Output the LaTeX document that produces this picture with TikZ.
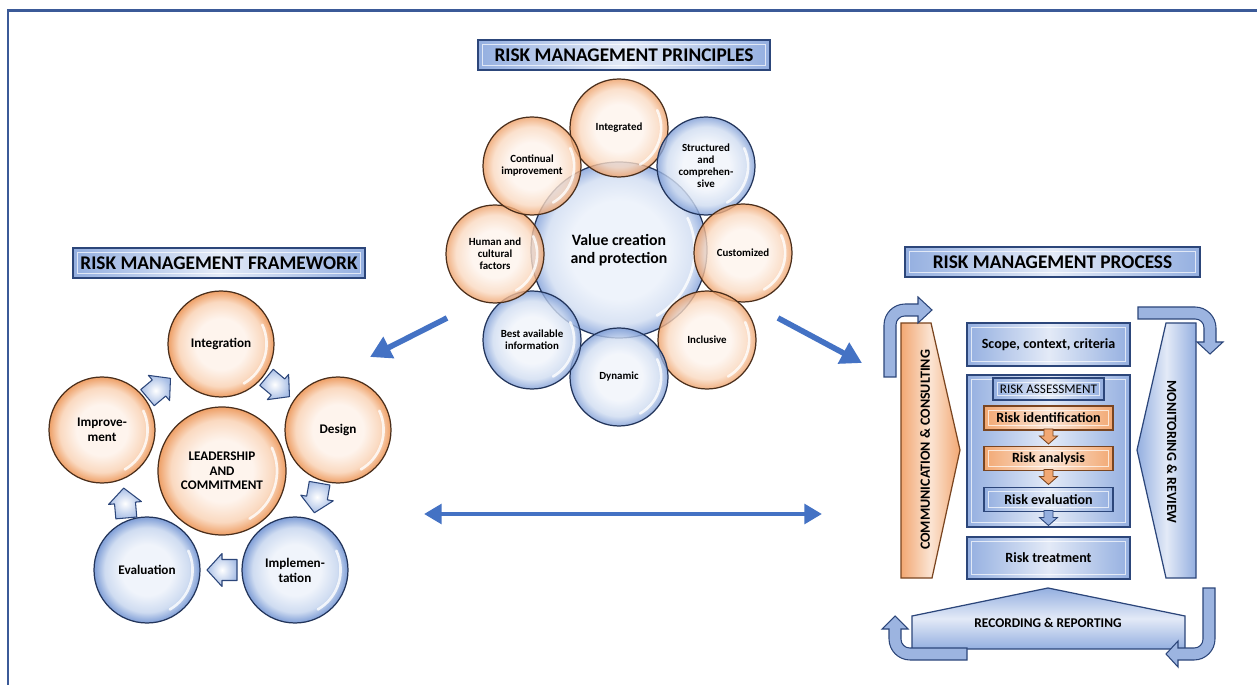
\documentclass[tikz,border=0pt]{standalone}
\usepackage{fontspec}
\setmainfont{Carlito}
\usetikzlibrary{shapes.arrows,shapes.geometric,arrows.meta,calc}

\definecolor{frameblue}{HTML}{3B5A98}
\definecolor{arrowblue}{HTML}{4472C4}
\definecolor{navy}{HTML}{22345A}
\definecolor{brownline}{HTML}{4A2E1B}
\definecolor{oA}{HTML}{FEF4ED}
\definecolor{oB}{HTML}{FAD9C0}
\definecolor{oC}{HTML}{EE9F66}
\definecolor{bA}{HTML}{F0F4FB}
\definecolor{bB}{HTML}{CFDCF1}
\definecolor{bC}{HTML}{7E9DD6}
\definecolor{cA}{HTML}{EEF3FB}
\definecolor{cB}{HTML}{D9E3F4}
\definecolor{cC}{HTML}{98B1E0}
\definecolor{boxmid}{HTML}{E3EAF7}
\definecolor{boxedge}{HTML}{94AFE0}
\definecolor{boxline}{HTML}{2C467A}
\definecolor{omid}{HTML}{FBE4D3}
\definecolor{oedge}{HTML}{F2A873}
\definecolor{oline}{HTML}{7A4520}
\definecolor{bentfill}{HTML}{9CB4E0}
\definecolor{blkout}{HTML}{A9BFE6}

\pgfdeclareradialshading{oglass}{\pgfpointorigin}{color(0bp)=(oA); color(12bp)=(oA); color(20bp)=(oB); color(25bp)=(oC); color(50bp)=(oC)}
\pgfdeclareradialshading{bglass}{\pgfpointorigin}{color(0bp)=(bA); color(12bp)=(bA); color(20bp)=(bB); color(25bp)=(bC); color(50bp)=(bC)}
\pgfdeclareradialshading{cglass}{\pgfpointorigin}{color(0bp)=(cA); color(14bp)=(cA); color(21bp)=(cB); color(25bp)=(cC); color(50bp)=(cC)}

\newcommand\fprin{\fontsize{6.2}{6.8}\selectfont\bfseries}
\newcommand\fcent{\fontsize{9}{10}\selectfont\bfseries}
\newcommand\fframe{\fontsize{7.5}{8.6}\selectfont\bfseries}
\newcommand\ftitle{\fontsize{11}{13}\selectfont\bfseries}
\newcommand\fproc{\fontsize{8}{9.5}\selectfont\bfseries}
\newcommand\fprocs{\fontsize{7.5}{9}\selectfont}

\tikzset{
  gloss/.style={path picture={
    \draw[white, line width=1.5pt, line cap=round, opacity=0.8]
      let \p1=(path picture bounding box.east), \p2=(path picture bounding box.center),
          \n1={veclen(\x1-\x2,\y1-\y2)*0.86} in
      ($(\p2)+(-60:\n1)$) arc[start angle=-60, end angle=25, radius=\n1];
  }},
  bevel/.style={path picture={
    \draw[white, opacity=0.7, line width=0.6pt]
      ([shift={(2.5pt,-2.5pt)}]path picture bounding box.north west) rectangle
      ([shift={(-2.5pt,2.5pt)}]path picture bounding box.south east);
  }},
  prin/.style={circle, minimum size=1.96cm, inner sep=0pt, align=center, font=\fprin,
    line width=0.7pt, fill opacity=0.8, text opacity=1, draw opacity=1, shade, gloss},
  porange/.style={prin, draw=brownline, shading=oglass},
  pblue/.style={prin, draw=navy, shading=bglass},
  pcenter/.style={circle, minimum size=3.52cm, inner sep=0pt, align=center, font=\fcent,
    line width=0.7pt, draw=navy, shade, shading=cglass, gloss},
  fw/.style={circle, minimum size=2.12cm, inner sep=0pt, align=center, font=\fframe,
    line width=0.7pt, shade, gloss},
  forange/.style={fw, draw=brownline, shading=oglass},
  fblue/.style={fw, draw=navy, shading=bglass},
  blk/.style={draw=boxline, line width=0.6pt, line join=round, shade, inner color=white, outer color=blkout},
  bigarrow/.style={arrowblue, line width=3.2pt, -{Triangle[length=12pt,width=13pt]}},
  titlebox/.style={draw=boxline, line width=0.8pt, left color=boxedge, right color=boxedge,
    middle color=boxmid, bevel, font=\ftitle, inner sep=0pt, minimum height=0.6cm},
  pbox/.style={draw=boxline, line width=0.7pt, left color=boxedge, right color=boxedge,
    middle color=boxmid, bevel, font=\fproc, inner sep=0pt},
  obox/.style={draw=oline, line width=0.7pt, left color=oedge, right color=oedge,
    middle color=omid, bevel, font=\fproc, inner sep=0pt},
  bent/.style={draw=boxline, line width=0.6pt, fill=bentfill},
}
\newcommand\blockarrow[3]{% x, y, angle
  \path[blk, shift={(#1,#2)}, rotate=#3]
    (-15,-10.5) -- (0,-10.5) -- (0,-16.5) -- (15,0) -- (0,16.5) -- (0,10.5) -- (-15,10.5) -- cycle;}
\newcommand\downarrowshape[3]{% x, y, style
  \path[#3, shift={(#1,#2)}]
    (-4.5,-7) -- (4.5,-7) -- (4.5,0) -- (9,0) -- (0,8) -- (-9,0) -- (-4.5,0) -- cycle;}

\begin{document}
\begin{tikzpicture}[x=0.02cm, y=-0.02cm]
\useasboundingbox (0,0) rectangle (1257,685);
\fill[white] (0,0) rectangle (1257,685);

% outer frame
\draw[frameblue, line width=1.7pt] (8,685) -- (8,10.5) -- (1257,10.5);

% ---------------- principles ----------------
\node[titlebox, minimum width=5.84cm] (ptitle) at (624,55) {RISK MANAGEMENT PRINCIPLES};
\node[pcenter] (pc) at (619,250) {Value creation\\and protection};
\node[porange] (p1) at (619,128) {Integrated};
\node[pblue]   (p2) at (706,166) {Structured\\and\\comprehen-\\sive};
\node[porange] (p3) at (743,253) {Customized};
\node[porange] (p4) at (707,340) {Inclusive};
\node[pblue]   (p5) at (619,377) {Dynamic};
\node[pblue]   (p6) at (532,340) {Best available\\information};
\node[porange] (p7) at (495,254) {Human and\\cultural\\factors};
\node[porange] (p8) at (532,166) {Continual\\improvement};

% ---------------- framework ----------------
\node[titlebox, minimum width=5.84cm] (ftitle) at (219,263) {RISK MANAGEMENT FRAMEWORK};
\node[forange] (f1) at (221,344) {Integration};
\node[forange] (f2) at (338,430) {Design};
\node[fblue]   (f3) at (295,570) {Implemen-\\tation};
\node[fblue]   (f4) at (147,570) {Evaluation};
\node[forange] (f5) at (102,430) {Improve-\\ment};
\node[forange, minimum size=2.56cm, font=\fontsize{7.5}{8.3}\selectfont\bfseries] (fl) at (222,471) {LEADERSHIP\\AND\\COMMITMENT};

\blockarrow{159}{388}{40}
\blockarrow{278}{387}{-40}
\blockarrow{317}{498}{-100}
\blockarrow{222}{570}{180}
\blockarrow{125}{503}{95}

% ---------------- big arrows ----------------
\coordinate (la1) at (447,318); \coordinate (la2) at (370,357);
\coordinate (ra1) at (778,318); \coordinate (ra2) at (862,363);
\coordinate (da1) at (424,514); \coordinate (da2) at (822,514);
\draw[bigarrow] (la1) -- (la2);
\draw[bigarrow] (ra1) -- (ra2);
\draw[arrowblue, line width=2.8pt, {Triangle[length=10pt,width=11pt]}-{Triangle[length=10pt,width=11pt]}] (da1) -- (da2);

% ---------------- process ----------------
\node[titlebox, minimum width=5.9cm] (prtitle) at (1052.5,262) {RISK MANAGEMENT PROCESS};

% communication & consulting
\path[draw=oline, line width=0.7pt, left color=oedge, right color=oedge, middle color=omid]
  (901,323) -- (931,323) -- (960,450) -- (932,578) -- (901,578) -- cycle;
\node[rotate=90, font=\fproc] (cc) at (925,450) {COMMUNICATION \& CONSULTING};

% monitoring & review
\path[draw=boxline, line width=0.7pt, left color=boxedge, right color=boxedge, middle color=boxmid]
  (1196,323) -- (1166,323) -- (1137,450) -- (1166,578) -- (1196,578) -- cycle;
\node[rotate=-90, font=\fproc] (mr) at (1172,452) {MONITORING \& REVIEW};

% recording & reporting
\path[draw=boxline, line width=0.7pt, top color=boxedge, bottom color=boxedge, middle color=boxmid]
  (912,649) -- (912,616) -- (1048,588) -- (1185,616) -- (1185,649) -- cycle;
\node[font=\fontsize{7.6}{9}\selectfont\bfseries] (rr) at (1048,623) {RECORDING \& REPORTING};

% boxes
\node[pbox, minimum width=3.26cm, minimum height=0.86cm] (scope) at (1048.5,344.5) {Scope, context, criteria};
\node[pbox, minimum width=3.26cm, minimum height=3.04cm] (assess) at (1048.5,451) {};
\node[pbox, font=\fprocs, minimum width=2.22cm, minimum height=0.44cm] (ra) at (1048.5,389) {RISK ASSESSMENT};
\node[obox, minimum width=2.58cm, minimum height=0.48cm] (ri) at (1048.5,418) {Risk identification};
\node[obox, minimum width=2.58cm, minimum height=0.48cm] (ran) at (1048.5,458.5) {Risk analysis};
\node[pbox, minimum width=2.58cm, minimum height=0.48cm] (rev) at (1048.5,499.5) {Risk evaluation};
\node[pbox, minimum width=3.26cm, minimum height=0.84cm] (rt) at (1048.5,558) {Risk treatment};

\downarrowshape{1048.5}{436}{draw=oline, line width=0.5pt, fill=oedge}
\downarrowshape{1048.5}{476.5}{draw=oline, line width=0.5pt, fill=oedge}
\downarrowshape{1048.5}{517.5}{draw=boxline, line width=0.5pt, fill=boxedge}

% bent arrows
\path[bent] (884,377) [rounded corners=12pt] -- (884,304) [sharp corners] -- (918,304) -- (918,297)
  -- (932,310) -- (918,323) -- (918,316) [rounded corners=5pt] -- (896,316) [sharp corners] -- (896,377) -- cycle;
\path[bent] (1138,307) [rounded corners=12pt] -- (1216,307) [sharp corners] -- (1216,342) -- (1223,342)
  -- (1210,354) -- (1197,342) -- (1204,342) [rounded corners=5pt] -- (1204,319) [sharp corners] -- (1138,319) -- cycle;
\path[bent] (1215,588) [rounded corners=12pt] -- (1215,660) [sharp corners] -- (1178,660) -- (1178,667)
  -- (1166,654) -- (1178,641) -- (1178,648) [rounded corners=5pt] -- (1203,648) [sharp corners] -- (1203,588) -- cycle;
\path[bent] (967,660) [rounded corners=12pt] -- (889,660) [sharp corners] -- (889,629) -- (882,629)
  -- (895,616) -- (908,629) -- (901,629) [rounded corners=5pt] -- (901,648) [sharp corners] -- (967,648) -- cycle;
\end{tikzpicture}
\end{document}
